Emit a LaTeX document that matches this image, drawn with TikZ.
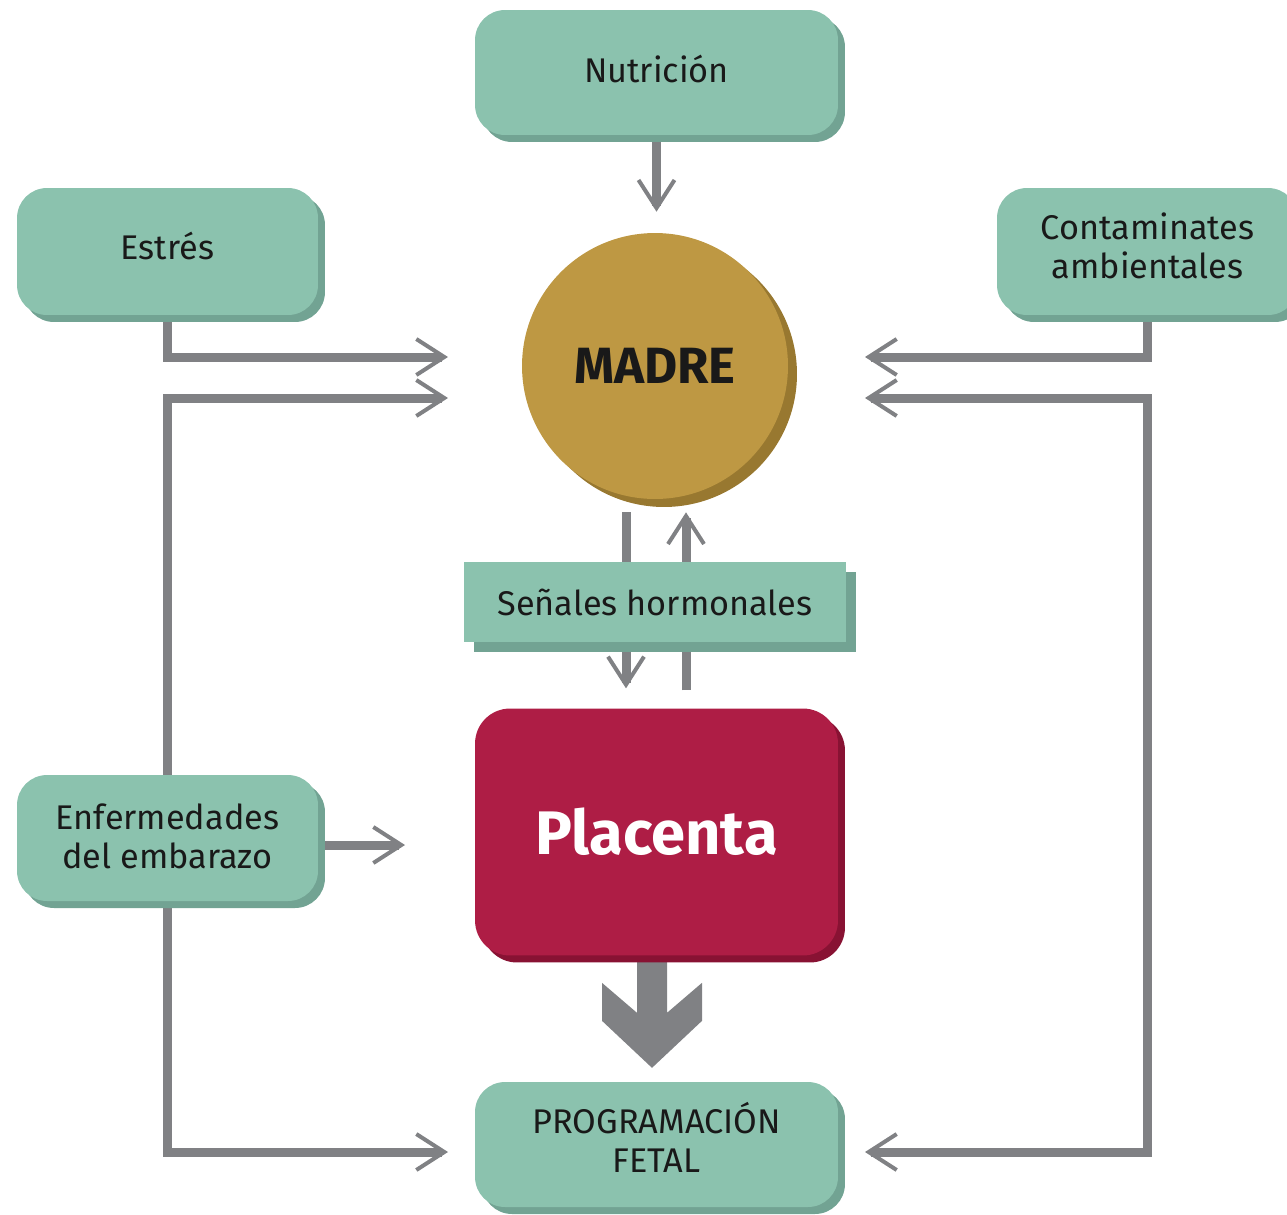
\documentclass[tikz,border=0pt]{standalone}
\usepackage{fontspec}
\setmainfont{Fira Sans}
\usetikzlibrary{arrows.meta,calc,shadows,backgrounds}
\definecolor{boxteal}{HTML}{8BC2AE}
\definecolor{boxtealdark}{HTML}{72A393}
\definecolor{madregold}{HTML}{BE9843}
\definecolor{madregolddark}{HTML}{987830}
\definecolor{placred}{HTML}{AE1D45}
\definecolor{placreddark}{HTML}{881233}
\definecolor{linegray}{HTML}{808184}

\begin{document}
\begin{tikzpicture}[x=0.02cm, y=-0.02cm,
    >={Straight Barb[length=0.56cm,width=0.72cm,line width=0.08cm]},
    greenbox/.style={fill=boxteal, rounded corners=0.6cm, minimum width=7.26cm, minimum height=2.5cm,
      align=center, text=black!90, font=\fontsize{19.5}{22}\selectfont, text depth=6pt,
      drop shadow={shadow xshift=0.14cm, shadow yshift=-0.14cm, fill=boxtealdark, opacity=1}},
    link/.style={draw=linegray, line width=0.18cm}]
    \useasboundingbox (0,0) rectangle (1287,1214);
    \node[greenbox, text depth=4.5pt] (nutricion) at (656.5,72.5) {Nutrición};
    \node[greenbox, minimum width=6.02cm, minimum height=2.54cm, text depth=7pt] (estres) at (167.5,251.5) {Estrés};
    \node[greenbox, minimum width=6.02cm, minimum height=2.54cm, text depth=7pt] (contam) at (1147.5,251.5) {Contaminates\\ambientales};
    \node[greenbox, minimum width=6.02cm, minimum height=2.52cm, text depth=2pt] (enferm) at (167.5,838) {Enfermedades\\del embarazo};
    \node[greenbox, text depth=8pt] (prog) at (656.5,1144.5) {PROGRAMACIÓN\\FETAL};
    \node[circle, fill=madregold, minimum size=5.32cm, text=black!90, font=\bfseries\fontsize{29}{30}\selectfont,
      drop shadow={shadow xshift=0.18cm, shadow yshift=-0.16cm, fill=madregolddark, opacity=1}] (madre) at (655,366) {MADRE};
    \node[fill=boxteal, minimum width=7.64cm, minimum height=1.6cm, text=black!90, font=\fontsize{19.5}{22}\selectfont,
      drop shadow={shadow xshift=0.2cm, shadow yshift=-0.2cm, fill=boxtealdark, opacity=1}] (senales) at (655,602) {Señales hormonales};
    \node[fill=placred, rounded corners=0.7cm, minimum width=7.26cm, minimum height=4.94cm, text=white,
      font=\bfseries\fontsize{35}{40}\selectfont,
      drop shadow={shadow xshift=0.14cm, shadow yshift=-0.14cm, fill=placreddark, opacity=1}] (placenta) at (656.5,832) {Placenta};

    \coordinate (mL1) at (448,357);
    \coordinate (mL2) at (448,398);
    \coordinate (mR1) at (865,357);
    \coordinate (mR2) at (865,398);
    \coordinate (pL) at (448,1152);
    \coordinate (pR) at (865,1152);
    \coordinate (plW) at (405,845);

    \begin{scope}[on background layer]
        \draw[link,->, shorten >=0.42cm] (nutricion.south) -- (nutricion.south |- madre.north);
        \draw[link,->] (estres.south) |- (mL1);
        \draw[link,->] (enferm.north) |- (mL2);
        \draw[link,->] (enferm.south) |- (pL);
        \draw[link,->] (enferm.east |- plW) -- (plW);
        \draw[link,->] (contam.south) |- (mR1);
        \draw[link,<->] (mR2) -| (contam.south |- pR) -- (pR);
        \draw[link,->] ($(madre.south)+(-29,13)$) -- ++(0,176);
        \draw[link,->] ($(madre.south)+(31,191)$) -- ++(0,-178);
        \fill[linegray] ($(placenta.south)+(-19.5,0)$) -- ++(30,0) -- ++(0,57) -- ++(35,-30) -- ++(0,38)
            -- ++(-50,47) -- ++(-50,-47) -- ++(0,-38) -- ++(35,30) -- cycle;
    \end{scope}
\end{tikzpicture}
\end{document}
